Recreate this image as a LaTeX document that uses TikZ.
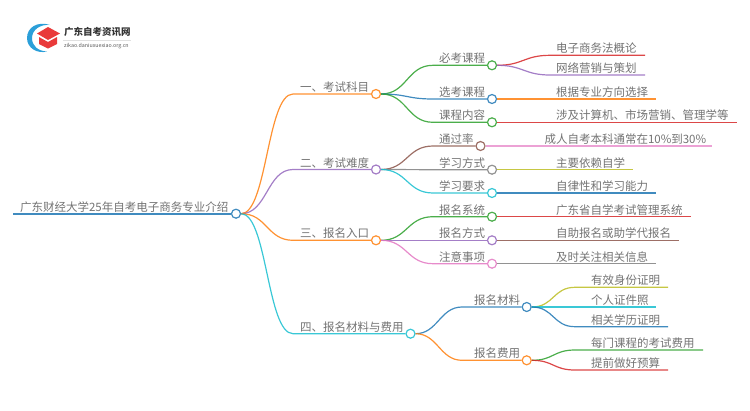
\documentclass[tikz,border=0pt]{standalone}
\usepackage{fontspec}
\setmainfont{Noto Sans CJK SC}
\usetikzlibrary{positioning}
\definecolor{tabblue}{HTML}{1F77B4}
\definecolor{taborange}{HTML}{FF7F0E}
\definecolor{tabgreen}{HTML}{2CA02C}
\definecolor{tabred}{HTML}{D62728}
\definecolor{tabpurple}{HTML}{9467BD}
\definecolor{tabbrown}{HTML}{8C564B}
\definecolor{tabpink}{HTML}{E377C2}
\definecolor{tabgrey}{HTML}{7F7F7F}
\definecolor{tabolive}{HTML}{BCBD22}
\definecolor{tabcyan}{HTML}{17BECF}
\definecolor{logoblue}{HTML}{2B9FD9}
\definecolor{logored}{HTML}{E93A3A}
\tikzstyle{dot} = [circle, minimum size=9pt, inner sep=0pt, line width=1.2pt, fill=white, draw opacity=0.85]
\tikzstyle{topic} = [anchor=south west, inner sep=0pt, outer sep=0pt, text=black!55, font=\fontsize{11.5pt}{12pt}\selectfont, yshift=1.5pt]
\tikzstyle{branch} = [line width=1.2pt, draw opacity=0.85]
\tikzstyle{curvy} = [out=0, in=180, distance=26pt]
\tikzstyle{curvy_short} = [out=0, in=180, distance=22pt]

\begin{document}
\begin{tikzpicture}[x=1pt, y=-1pt]
 \useasboundingbox (0,0) rectangle (750,410);

 % logo
 \fill [logoblue] (50,25) .. controls (38,21) and (27,27) .. (27,38) .. controls (27,48) and (37,54) .. (47,51.5) .. controls (38,51) and (32,46) .. (32,38) .. controls (32,30) and (40,24) .. (50,25) -- cycle;
 \fill [logored] (48,27) -- (60,33.5) -- (48,40) -- (37,33.5) -- cycle;
 \fill [logored] (39,37) -- (48,42) -- (57,37) -- (57,44) -- (48,48.5) -- (39,44) -- cycle;
 \node (logo_title) [anchor=west, inner sep=0pt, text=black!80, font=\fontsize{9.5pt}{10pt}\selectfont\bfseries] at (64,31.5) {广东自考资讯网};
 \node (logo_url) [anchor=west, inner sep=0pt, text=black!65, font=\fontsize{5.3pt}{6pt}\selectfont] at (64,46) {zikao.daniuxuexiao.org.cn};
 \coordinate (logo_a) at (63,40);
 \coordinate (logo_b) at (131,40);
 \draw [black!12, line width=0.5pt] (logo_a) -- (logo_b);

 % root
 \node (root) [dot, draw=tabblue] at (236,213.7) {};
 \node (root_text) [topic] at (20,213.7) {广东财经大学25年自考电子商务专业介绍};
 \coordinate (root_start) at (13,213.7);
 \draw [branch, tabblue, line width=1.6pt] (root_start) -- (root);

 % first level
 \node (exam) [dot, draw=taborange] at (376,94) {};
 \node (exam_text) [topic] at (300,94) {一、考试科目};
 \coordinate (exam_in) at (293,94);
 \draw [branch, taborange] (root) to [curvy] (exam_in) -- (exam);

 \node (hard) [dot, draw=tabpurple] at (376,169.5) {};
 \node (hard_text) [topic] at (300,169.5) {二、考试难度};
 \coordinate (hard_in) at (293,169.5);
 \draw [branch, tabpurple] (root) to [curvy] (hard_in) -- (hard);

 \node (entry) [dot, draw=taborange] at (376,240.3) {};
 \node (entry_text) [topic] at (300,240.3) {三、报名入口};
 \coordinate (entry_in) at (293,240.3);
 \draw [branch, taborange] (root) to [curvy] (entry_in) -- (entry);

 \node (cost) [dot, draw=tabcyan] at (410.5,333.7) {};
 \node (cost_text) [topic] at (300,333.7) {四、报名材料与费用};
 \coordinate (cost_in) at (293,333.7);
 \draw [branch, tabcyan] (root) to [curvy] (cost_in) -- (cost);

 % second level
 \node (must) [dot, draw=tabgreen] at (492,65.3) {};
 \node (must_text) [topic] at (439,65.3) {必考课程};
 \coordinate (must_in) at (433,65.3);
 \draw [branch, tabgreen] (exam) to [curvy] (must_in) -- (must);

 \node (option) [dot, draw=tabblue] at (492,99) {};
 \node (option_text) [topic] at (439,99) {选考课程};
 \coordinate (option_in) at (433,99);
 \draw [branch, tabblue] (exam) to [curvy] (option_in) -- (option);

 \node (content) [dot, draw=tabgreen] at (492,122.3) {};
 \node (content_text) [topic] at (439,122.3) {课程内容};
 \coordinate (content_in) at (433,122.3);
 \draw [branch, tabgreen] (exam) to [curvy] (content_in) -- (content);

 \node (rate) [dot, draw=tabbrown] at (480.5,146) {};
 \node (rate_text) [topic] at (439,146) {通过率};
 \coordinate (rate_in) at (433,146);
 \draw [branch, tabbrown] (hard) to [curvy] (rate_in) -- (rate);

 \node (study) [dot, draw=tabgrey] at (492,169.7) {};
 \node (study_text) [topic] at (439,169.7) {学习方式};
 \coordinate (study_in) at (433,169.7);
 \draw [branch, tabgrey] (hard) to [curvy] (study_in) -- (study);

 \node (need) [dot, draw=tabcyan] at (492,193) {};
 \node (need_text) [topic] at (439,193) {学习要求};
 \coordinate (need_in) at (433,193);
 \draw [branch, tabcyan] (hard) to [curvy] (need_in) -- (need);

 \node (system) [dot, draw=tabgreen] at (492,216.7) {};
 \node (system_text) [topic] at (439,216.7) {报名系统};
 \coordinate (system_in) at (433,216.7);
 \draw [branch, tabgreen] (entry) to [curvy] (system_in) -- (system);

 \node (way) [dot, draw=tabpurple] at (492,240.3) {};
 \node (way_text) [topic] at (439,240.3) {报名方式};
 \coordinate (way_in) at (433,240.3);
 \draw [branch, tabpurple] (entry) to [curvy] (way_in) -- (way);

 \node (note) [dot, draw=tabpink] at (492,263.7) {};
 \node (note_text) [topic] at (439,263.7) {注意事项};
 \coordinate (note_in) at (433,263.7);
 \draw [branch, tabpink] (entry) to [curvy] (note_in) -- (note);

 \node (papers) [dot, draw=tabblue] at (526.7,307) {};
 \node (papers_text) [topic] at (474,307) {报名材料};
 \coordinate (papers_in) at (462,307);
 \draw [branch, tabblue] (cost) to [curvy_short] (papers_in) -- (papers);

 \node (fee) [dot, draw=taborange] at (526.7,360.3) {};
 \node (fee_text) [topic] at (474,360.3) {报名费用};
 \coordinate (fee_in) at (462,360.3);
 \draw [branch, taborange] (cost) to [curvy_short] (fee_in) -- (fee);

 % leaves
 \node (law) [topic] at (556,55.3) {电子商务法概论};
 \coordinate (law_in) at (550,55.3);
 \coordinate (law_end) at (645,55.3);
 \draw [branch, tabred] (must) to [curvy] (law_in) -- (law_end);

 \node (market) [topic] at (556,75) {网络营销与策划};
 \coordinate (market_in) at (550,75);
 \coordinate (market_end) at (645,75);
 \draw [branch, tabpurple] (must) to [curvy] (market_in) -- (market_end);

 \node (pick) [topic] at (556,99) {根据专业方向选择};
 \coordinate (pick_end) at (656,99);
 \draw [branch, taborange] (option) -- (pick_end);

 \node (cover) [topic] at (556,122.3) {涉及计算机、市场营销、管理学等};
 \coordinate (cover_end) at (737,122.3);
 \draw [branch, tabred] (content) -- (cover_end);

 \node (percent) [topic] at (544.5,146) {成人自考本科通常在10\%到30\%};
 \coordinate (percent_end) at (712,146);
 \draw [branch, tabpink!80!white] (rate) -- (percent_end);

 \node (self) [topic] at (556,169.7) {主要依赖自学};
 \coordinate (self_end) at (633,169.7);
 \draw [branch, tabolive] (study) -- (self_end);

 \node (ability) [topic] at (556,193) {自律性和学习能力};
 \coordinate (ability_end) at (656,193);
 \draw [branch, tabblue] (need) -- (ability_end);

 \node (province) [topic] at (556,216.7) {广东省自学考试管理系统};
 \coordinate (province_end) at (691,216.7);
 \draw [branch, tabred] (system) -- (province_end);

 \node (agent) [topic] at (556,240.3) {自助报名或助学代报名};
 \coordinate (agent_end) at (679,240.3);
 \draw [branch, tabbrown] (way) -- (agent_end);

 \node (news) [topic] at (556,263.7) {及时关注相关信息};
 \coordinate (news_end) at (656,263.7);
 \draw [branch, tabgrey] (note) -- (news_end);

 \node (idcard) [topic] at (591,287.3) {有效身份证明};
 \coordinate (idcard_in) at (575,287.3);
 \coordinate (idcard_end) at (668,287.3);
 \draw [branch, tabolive] (papers) to [curvy_short] (idcard_in) -- (idcard_end);

 \node (photo) [topic] at (591,307) {个人证件照};
 \coordinate (photo_end) at (656,307);
 \draw [branch, tabcyan] (papers) -- (photo_end);

 \node (degree) [topic] at (591,326.7) {相关学历证明};
 \coordinate (degree_in) at (575,326.7);
 \coordinate (degree_end) at (668,326.7);
 \draw [branch, tabblue] (papers) to [curvy_short] (degree_in) -- (degree_end);

 \node (each) [topic] at (591,350) {每门课程的考试费用};
 \coordinate (each_in) at (575,350);
 \coordinate (each_end) at (703,350);
 \draw [branch, tabgreen] (fee) to [curvy_short] (each_in) -- (each_end);

 \node (budget) [topic] at (591,370) {提前做好预算};
 \coordinate (budget_in) at (575,370);
 \coordinate (budget_end) at (668,370);
 \draw [branch, tabred] (fee) to [curvy_short] (budget_in) -- (budget_end);

\end{tikzpicture}
\end{document}
